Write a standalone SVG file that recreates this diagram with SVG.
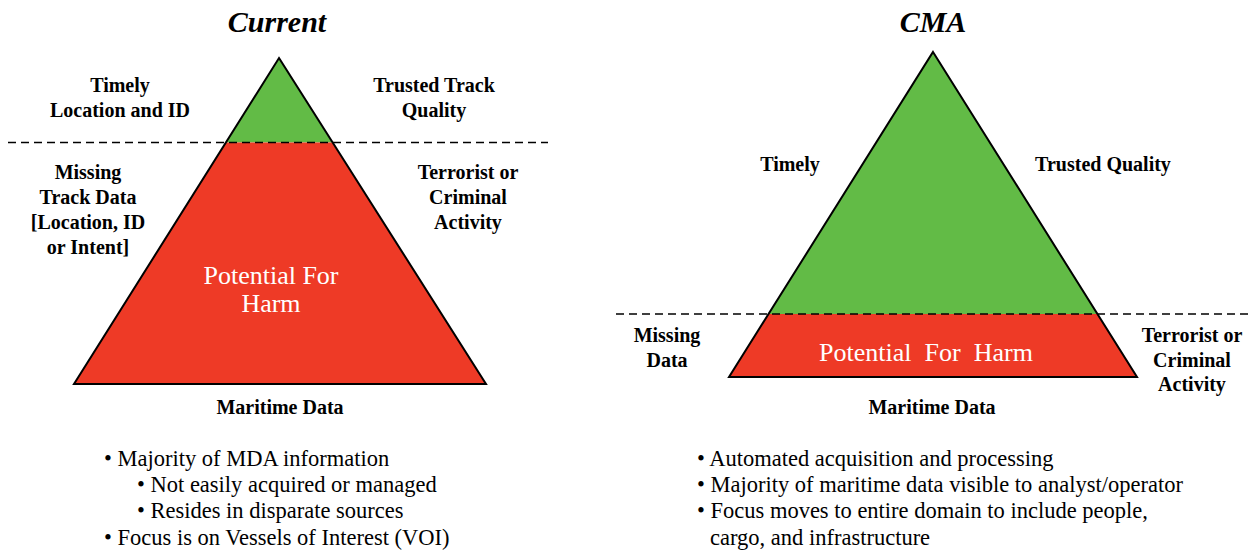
<svg xmlns="http://www.w3.org/2000/svg" width="1252" height="553" viewBox="0 0 1252 553">
<style>
.t{font-family:"Liberation Serif","Times New Roman",serif;font-weight:bold;font-size:20px;fill:#000;text-anchor:middle}
.h{font-family:"Liberation Serif","Times New Roman",serif;font-weight:bold;font-style:italic;font-size:30px;fill:#000;text-anchor:middle}
.w{font-family:"Liberation Serif","Times New Roman",serif;font-size:26px;fill:#fff;text-anchor:middle}
.b{font-family:"Liberation Serif","Times New Roman",serif;font-size:22.5px;fill:#000}
.dash{stroke:#000;stroke-width:1.5;stroke-dasharray:8 5;fill:none}
.edge{stroke:#000;stroke-width:2;fill:none;stroke-linejoin:miter}
.g{fill:#62BB46}
.r{fill:#EE3A26}
</style>
<rect width="1252" height="553" fill="#fff"/>
<g id="current">
<polygon class="g" points="279,58 226,142.5 332,142.5"/>
<polygon class="r" points="226,142.5 332,142.5 486,384 74,384"/>
<polygon class="edge" points="279,58 486,384 74,384"/>
<text class="h" x="277" y="32">Current</text>
<text class="t" x="120" y="92">Timely</text>
<text class="t" x="120" y="117">Location and ID</text>
<text class="t" x="434" y="92">Trusted Track</text>
<text class="t" x="434" y="117">Quality</text>
<text class="t" x="88" y="179">Missing</text>
<text class="t" x="88" y="204">Track Data</text>
<text class="t" x="88" y="229">[Location, ID</text>
<text class="t" x="88" y="254">or Intent]</text>
<text class="t" x="468" y="179">Terrorist or</text>
<text class="t" x="468" y="204">Criminal</text>
<text class="t" x="468" y="229">Activity</text>
<text class="w" x="271" y="284">Potential For</text>
<text class="w" x="271" y="312">Harm</text>
<text class="t" x="280" y="414">Maritime Data</text>
</g>
<g id="cma">
<polygon class="g" points="933,52 768.5,314 1097.5,314"/>
<polygon class="r" points="768.5,314 1097.5,314 1137,377 729,377"/>
<polygon class="edge" points="933,52 1137,377 729,377"/>
<text class="h" x="933" y="32">CMA</text>
<text class="t" x="790" y="171">Timely</text>
<text class="t" x="1103" y="171">Trusted Quality</text>
<text class="t" x="667" y="342">Missing</text>
<text class="t" x="667" y="367">Data</text>
<text class="w" x="926" y="361" xml:space="preserve">Potential  For  Harm</text>
<text class="t" x="1192" y="342">Terrorist or</text>
<text class="t" x="1192" y="367">Criminal</text>
<text class="t" x="1192" y="391">Activity</text>
<text class="t" x="932" y="414">Maritime Data</text>
</g>
<g id="connectors">
<line class="dash" x1="8" y1="142.5" x2="548" y2="142.5"/>
<line class="dash" x1="616" y1="314" x2="1252" y2="314"/>
</g>
<g id="notes-current">
<text class="b" x="104" y="466">• Majority of MDA information</text>
<text class="b" x="137" y="492">• Not easily acquired or managed</text>
<text class="b" x="137" y="518">• Resides in disparate sources</text>
<text class="b" x="104" y="545">• Focus is on Vessels of Interest (VOI)</text>
</g>
<g id="notes-cma">
<text class="b" x="697" y="466">• Automated acquisition and processing</text>
<text class="b" x="697" y="492">• Majority of maritime data visible to analyst/operator</text>
<text class="b" x="697" y="518">• Focus moves to entire domain to include people,</text>
<text class="b" x="710" y="545">cargo, and infrastructure</text>
</g>
</svg>
